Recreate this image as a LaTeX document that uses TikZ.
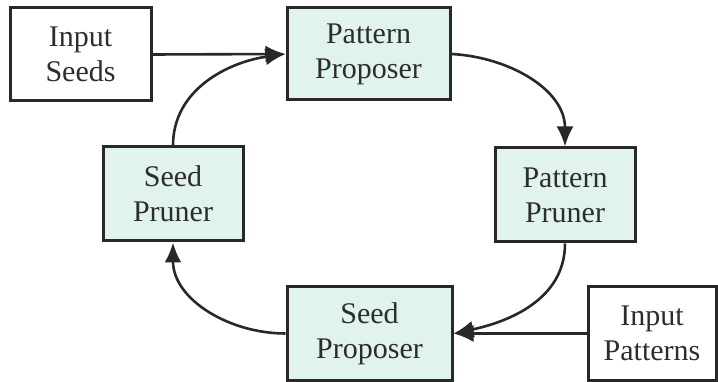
\documentclass[tikz,border=0pt]{standalone}
\usepackage{fontspec}
\setmainfont{Liberation Serif}
\usetikzlibrary{arrows.meta}
\definecolor{boxfill}{RGB}{224,243,238}
\definecolor{ink}{RGB}{40,40,40}
\definecolor{txt}{RGB}{45,45,45}
\tikzset{
  base/.style={draw=ink, line width=3pt, align=center, text=txt,
    font=\fontsize{30}{35}\selectfont, inner sep=0pt},
  proc/.style={base, fill=boxfill},
  inbox/.style={base, fill=white},
  flow/.style={draw=ink, line width=2.6pt, -{Latex[length=20pt,width=17pt]}}
}
\begin{document}
\begin{tikzpicture}[x=1pt,y=-1pt]
\useasboundingbox (0,0) rectangle (718,382);
\node[inbox, minimum width=141pt, minimum height=93pt] (is) at (80.5,54.5) {Input\\Seeds};
\node[proc, minimum width=163pt, minimum height=92pt] (pp) at (368.5,54) {Pattern\\Proposer};
\node[proc, minimum width=140pt, minimum height=94pt] (pr) at (565,195) {Pattern\\Pruner};
\node[proc, minimum width=140pt, minimum height=94pt] (sr) at (173,194) {Seed\\Pruner};
\node[proc, minimum width=165pt, minimum height=93pt] (sp) at (369.5,333.5) {Seed\\Proposer};
\node[inbox, minimum width=128pt, minimum height=93pt] (ip) at (652,333.5) {Input\\Patterns};
\draw[flow] (is.east) -- (pp.west);
\draw[flow] (sr.north) to[out=90,in=188] (pp.west);
\draw[flow] (pp.east) to[out=-3,in=90] (pr.north);
\draw[flow] (pr.south) to[out=-90,in=12] (sp.east);
\draw[flow] (ip.west) -- (sp.east);
\draw[flow] (sp.west) to[out=180,in=-90] (sr.south);
\end{tikzpicture}
\end{document}
